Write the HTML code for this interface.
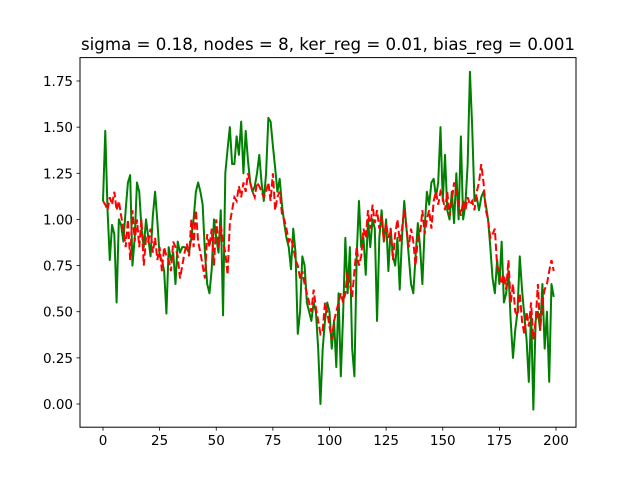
<!DOCTYPE html>
<html><head><meta charset="utf-8"><style>body{margin:0;background:#fff}svg{display:block}text{font-family:"DejaVu Sans","Liberation Sans",sans-serif;fill:#000}</style></head>
<body>
<svg id="chart" width="640" height="480" xmlns="http://www.w3.org/2000/svg">
<rect width="640" height="480" fill="#fff"/>
<text x="328" y="50" text-anchor="middle" font-size="16.5" textLength="494" lengthAdjust="spacingAndGlyphs">sigma = 0.18, nodes = 8, ker_reg = 0.01, bias_reg = 0.001</text>
<g id="plot"></g>
<rect x="80" y="57.6" width="496" height="369.6" fill="none" stroke="#000" stroke-width="1"/>
</svg>
<script>
const xTicks=[0,25,50,75,100,125,150,175,200];
const yTicks=[0,0.25,0.5,0.75,1.0,1.25,1.5,1.75];
const yTickLabels=["0.00","0.25","0.50","0.75","1.00","1.25","1.50","1.75"];
const greenSeries=[1.10,1.48,1.05,0.78,0.97,0.92,0.55,1.0,0.97,0.88,
1.05,1.2,1.24,0.75,0.9,1.2,1.15,0.95,0.85,1.0,
0.9,0.8,1.02,1.15,0.99,0.8,0.78,0.72,0.49,0.85,
0.78,0.82,0.65,0.88,0.82,0.85,0.85,0.84,0.82,0.9,
1.0,1.15,1.2,1.15,1.08,0.82,0.65,0.6,0.73,1.0,
0.9,0.82,1.05,0.48,1.25,1.38,1.5,1.3,1.3,1.45,
1.35,1.53,1.25,1.48,1.32,1.2,1.15,1.18,1.25,1.35,
1.2,1.1,1.25,1.55,1.53,1.4,1.28,1.15,1.22,1.08,
0.98,0.9,0.85,0.73,0.95,0.82,0.38,0.5,0.8,0.75,
0.55,0.5,0.45,0.55,0.5,0.3,0.0,0.3,0.45,0.55,
0.5,0.3,0.45,0.2,0.6,0.15,0.48,0.9,0.6,0.85,
0.3,0.15,0.8,1.1,0.85,0.9,0.7,1.0,0.85,1.0,
0.95,0.45,0.9,1.05,0.88,1.0,0.72,0.95,0.8,0.75,
0.9,0.62,0.9,1.1,0.95,0.8,0.65,0.6,0.8,0.98,
0.85,0.65,0.95,1.15,1.08,1.2,1.22,1.12,1.2,1.5,
1.1,1.35,1.05,1.0,1.15,0.98,1.25,1.0,1.45,1.0,
1.08,1.3,1.8,1.5,1.1,1.12,1.05,1.12,1.15,1.08,
1.0,0.85,0.68,0.6,0.78,0.65,0.88,0.55,0.6,0.72,
0.45,0.25,0.4,0.5,0.8,0.62,0.48,0.35,0.12,0.5,
-0.03,0.45,0.5,0.4,0.65,0.3,0.5,0.12,0.65,0.58];
const redSeries=[1.1,1.08,1.05,1.12,1.08,1.15,1.05,1.1,1.02,0.95,
0.85,1.0,0.78,1.05,0.88,1.0,0.85,1.0,0.75,0.9,
0.88,0.95,0.82,0.9,0.78,0.85,0.72,0.85,0.8,0.78,
0.72,0.88,0.85,0.8,0.68,0.75,0.82,0.87,0.8,1.0,
0.85,1.05,0.88,0.82,0.75,0.68,0.92,0.85,0.95,0.75,
1.0,0.85,0.97,0.88,0.82,0.7,0.98,1.05,1.12,1.1,
1.18,1.12,1.2,1.15,1.25,1.2,1.15,1.12,1.2,1.18,
1.15,1.12,1.15,1.2,1.1,1.25,1.05,1.12,1.15,1.03,
1.0,0.95,0.88,0.9,0.85,0.78,0.75,0.68,0.72,0.65,
0.6,0.55,0.5,0.62,0.52,0.45,0.38,0.4,0.55,0.5,
0.42,0.35,0.45,0.5,0.55,0.6,0.55,0.6,0.72,0.65,
0.58,0.72,0.85,0.75,0.8,0.95,0.9,1.05,0.95,1.08,
0.98,1.05,0.95,1.02,0.88,0.98,0.9,0.95,0.78,0.92,
1.0,0.88,0.95,1.05,0.95,0.85,0.95,0.88,0.75,0.9,
0.92,1.05,0.92,1.0,1.05,0.95,1.1,1.15,1.08,1.15,
1.12,1.05,1.15,1.02,1.1,1.2,1.15,1.08,1.02,1.1,
1.05,1.12,1.08,1.1,1.05,1.15,1.2,1.3,1.2,1.05,
1.0,0.9,0.92,0.95,0.75,0.72,0.65,0.7,0.62,0.78,
0.55,0.65,0.5,0.48,0.6,0.45,0.38,0.5,0.42,0.55,
0.35,0.45,0.65,0.4,0.55,0.62,0.65,0.72,0.78,0.72];

const NS='http://www.w3.org/2000/svg';
const g=document.getElementById('plot');
const xS=v=>103+v*2.265;
const yS=v=>404-v*184.57;
function mk(t,a){const e=document.createElementNS(NS,t);for(const k in a)e.setAttribute(k,a[k]);g.appendChild(e);return e;}
xTicks.forEach(t=>{
  const x=xS(t);
  const l=mk('line',{x1:x,x2:x,y1:427.2,y2:430.7,stroke:'#000','stroke-width':0.8});
  
  
  const tx=mk('text',{x:x,y:445,'text-anchor':'middle','font-size':'13.5'});
  tx.textContent=String(t);
  
  
});
yTicks.forEach((t,i)=>{
  const y=yS(t);
  const l=mk('line',{x1:76.5,x2:80,y1:y,y2:y,stroke:'#000','stroke-width':0.8});
  
  
  const tx=mk('text',{x:73,y:y+5,'text-anchor':'end','font-size':'13.5'});
  tx.textContent=yTickLabels[i];
  
  
});
function pts(arr){return arr.map((v,i)=>xS(i).toFixed(2)+','+yS(v).toFixed(2)).join(' ');}
const gl=mk('polyline',{points:pts(greenSeries),fill:'none',stroke:'#008000','stroke-width':2,'stroke-linejoin':'round'});


const rl=mk('polyline',{points:pts(redSeries),fill:'none',stroke:'#ff0000','stroke-width':2,'stroke-dasharray':'7.4,3.2'});


</script>
</body></html>
